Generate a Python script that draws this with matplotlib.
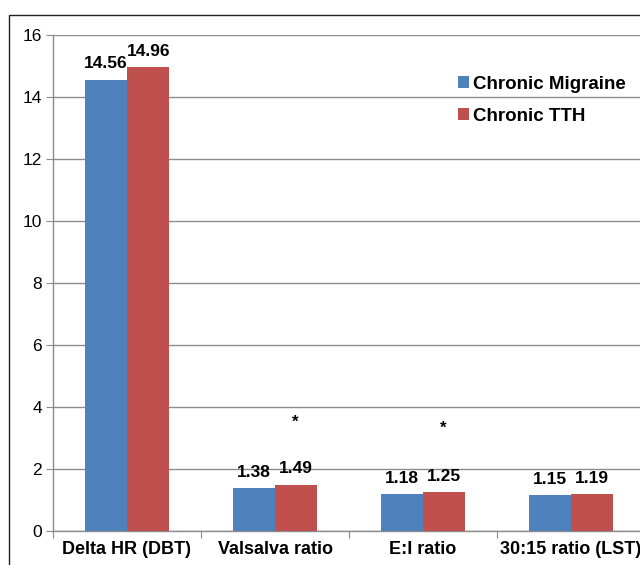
import numpy as np
import matplotlib.pyplot as plt
from matplotlib.patches import Rectangle

plt.rcParams['font.family'] = ['Liberation Sans', 'DejaVu Sans']

# data
categories = ['Delta HR (DBT)', 'Valsalva ratio', 'E:I ratio', '30:15 ratio (LST)']
migraine = [14.56, 1.38, 1.18, 1.15]
tth = [14.96, 1.49, 1.25, 1.19]
series_names = ['Chronic Migraine', 'Chronic TTH']
star_idx = [1, 2]
star_y = [3.5, 3.3]

BLUE = '#4F81BD'
RED = '#C0504D'
GRID = '#8C8C8C'

fig = plt.figure(figsize=(6.4, 5.65), dpi=100)
ax = fig.add_axes([53 / 640, 1 - 531 / 565, 592 / 640, 496 / 565])

x = np.arange(len(categories))
w = 0.287
b1 = ax.bar(x - w / 2, migraine, w, color=BLUE, label=series_names[0], zorder=3)
b2 = ax.bar(x + w / 2, tth, w, color=RED, label=series_names[1], zorder=3)

for bars, vals in ((b1, migraine), (b2, tth)):
    for r, v in zip(bars, vals):
        ax.annotate(f'{v:.2f}', (r.get_x() + r.get_width() / 2, v),
                    xytext=(0, 6), textcoords='offset points',
                    ha='center', va='bottom', fontsize=12.5, fontweight='bold')

for i, sy in zip(star_idx, star_y):
    ax.text(i + w / 2 - 0.005, sy, '*', ha='center', va='center',
            fontsize=12, fontweight='bold')

ax.set_xlim(-0.5, len(categories) - 0.5)
ax.set_ylim(0, 16)
ax.set_yticks(np.arange(0, 17, 2))
ax.yaxis.grid(True, color=GRID, linewidth=1, zorder=0)
ax.set_axisbelow(True)

ax.set_xticks(np.arange(-0.5, len(categories), 1))
ax.set_xticklabels([])
ax.set_xticks(x, minor=True)
ax.set_xticklabels(categories, minor=True, fontsize=13, fontweight='bold')
ax.tick_params(axis='x', which='minor', length=0, pad=7)
ax.tick_params(axis='x', which='major', length=5, color=GRID, direction='out')
ax.tick_params(axis='y', length=5, color=GRID, labelsize=12.5, pad=3)

for s in ('top', 'right'):
    ax.spines[s].set_visible(False)
for s in ('left', 'bottom'):
    ax.spines[s].set_color(GRID)
    ax.spines[s].set_linewidth(1)

ax.legend(loc='upper left', bbox_to_anchor=(458 / 640, 1 - 76 / 565),
          bbox_transform=fig.transFigure, frameon=False,
          prop={'size': 13.5, 'weight': 'bold'}, handlelength=0.6,
          handleheight=0.6, handletextpad=0.2, labelspacing=0.8,
          borderaxespad=0, borderpad=0)

fig.patches.append(Rectangle((9 / 640, -0.1), 1.0, 1 - 15 / 565 + 0.1,
                             transform=fig.transFigure, fill=False,
                             edgecolor='#222222', linewidth=1))

fig.savefig('out.png', dpi=100)
